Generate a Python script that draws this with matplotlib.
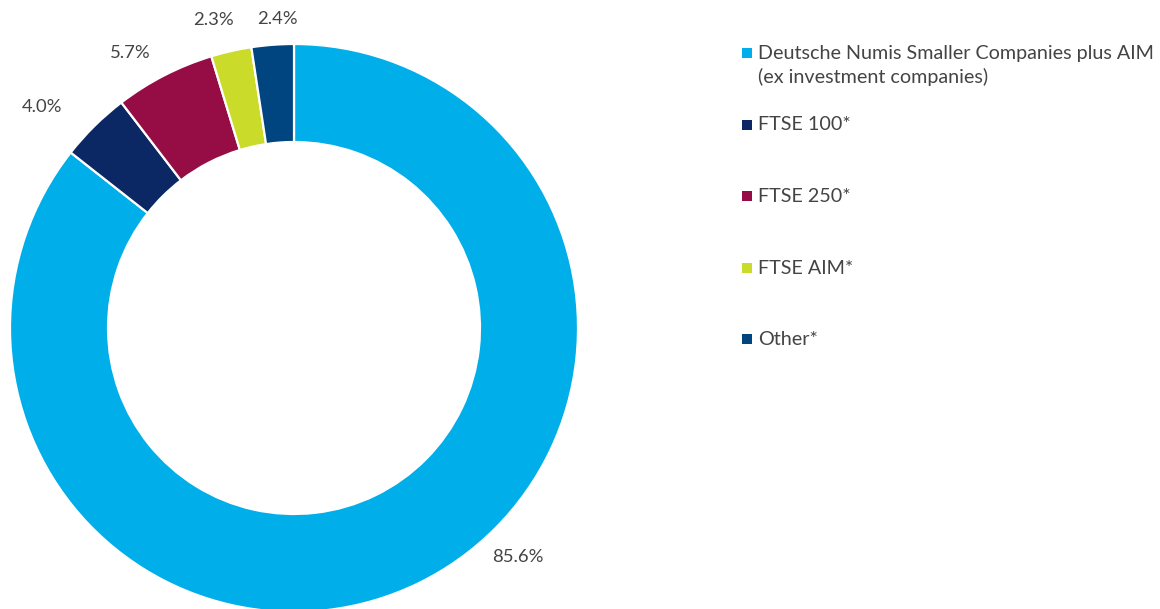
import matplotlib
matplotlib.use("Agg")
import matplotlib.pyplot as plt
import numpy as np

# Data
categories = [
    "Deutsche Numis Smaller Companies plus AIM\n(ex investment companies)",
    "FTSE 100*",
    "FTSE 250*",
    "FTSE AIM*",
    "Other*",
]
shares = [85.6, 4.0, 5.7, 2.3, 2.4]
colors = ["#00AEEA", "#0C2864", "#960D45", "#CBDB2A", "#00457F"]

plt.rcParams["font.family"] = ["Lato", "DejaVu Sans"]
text_color = "#444444"

W, H = 1160, 609
fig = plt.figure(figsize=(W / 100, H / 100), dpi=100)
ax = fig.add_axes([0, 0, 1, 1])

# donut, drawn in pixel-like units
cx, cy, R = 294, H - 328, 284
wedges, _ = ax.pie(shares, colors=colors, startangle=90, counterclock=False,
                   center=(cx, cy), radius=R,
                   wedgeprops=dict(width=98, edgecolor="white", linewidth=1.6))

# percentage labels outside the ring (angle shift from wedge middle, distance)
label_place = [(18.5, 1.127), (4.1, 1.18), (3.5, 1.127), (1.9, 1.12), (-1.3, 1.09)]
for w, v, (shift, dist) in zip(wedges, shares, label_place):
    ang = np.deg2rad((w.theta1 + w.theta2) / 2 + shift)
    ax.text(cx + R * dist * np.cos(ang), cy + R * dist * np.sin(ang),
            f"{v:.1f}%", ha="center", va="center", fontsize=13.3, color=text_color)

# legend on the right
ly = H - 53
for c, lab in zip(colors, categories):
    ax.scatter([747], [ly], marker="s", s=50, color=c, linewidths=0)
    ax.text(758, ly + 8, lab, ha="left", va="top", fontsize=14.2,
            color=text_color, linespacing=1.38)
    ly -= 71.5

ax.set_xlim(0, W)
ax.set_ylim(0, H)
ax.set_aspect("equal")
ax.axis("off")

fig.savefig("out.png", dpi=100)
